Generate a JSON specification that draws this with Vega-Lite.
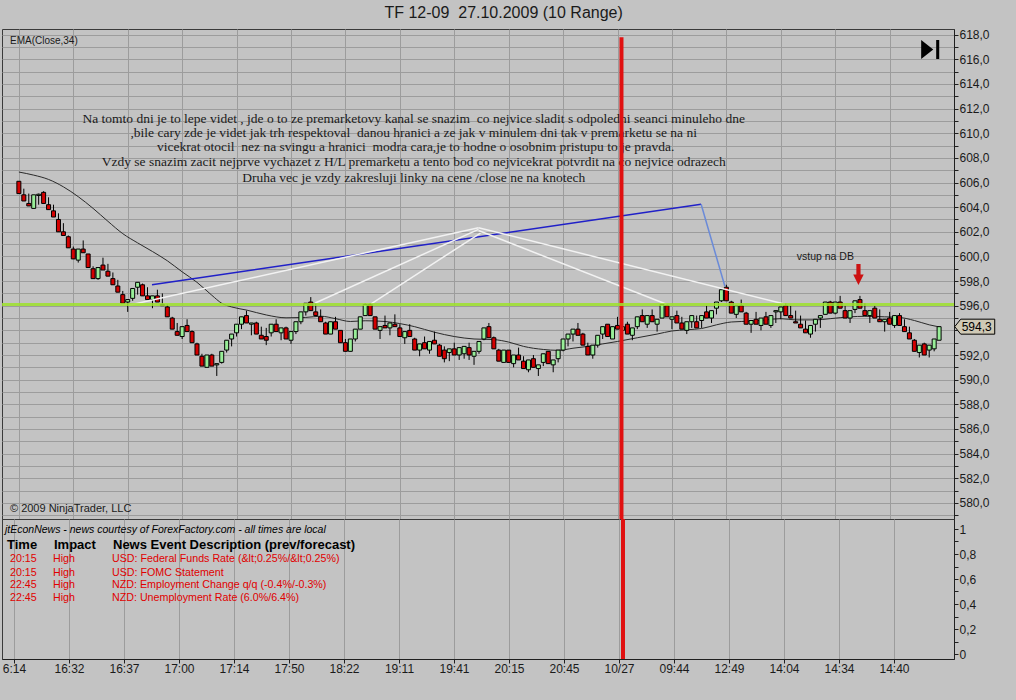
{
  "$schema": "https://vega.github.io/schema/vega-lite/v6.json",
  "background": "#c3c3c3",
  "padding": {"left": 0, "top": 5, "right": 22, "bottom": 26},
  "bounds": "flush",
  "spacing": 0,
  "title": {"text": "TF 12-09\u00a0 27.10.2009 (10 Range)", "font": "Liberation Sans", "fontSize": 16, "fontWeight": "normal", "color": "#1a1a1a", "anchor": "middle", "dx": 5, "offset": -9, "baseline": "bottom"},
  "config": {
    "view": {"stroke": "#3a3a3a", "strokeWidth": 1},
    "axis": {"labelFont": "Liberation Sans", "labelColor": "#1a1a1a", "domainColor": "#202020", "tickColor": "#202020", "gridColor": "#9c9c9c", "gridWidth": 1, "labelOverlap": false, "labelBound": false}
  },
  "datasets": {
    "bars": [
      {"i":0,"o":606.1,"h":606.1,"l":605.1,"c":605.1},
      {"i":1,"o":605.0,"h":605.5,"l":604.5,"c":604.5},
      {"i":2,"o":604.3,"h":605.1,"l":604.1,"c":604.1},
      {"i":3,"o":603.9,"h":605.0,"l":603.9,"c":605.0},
      {"i":4,"o":604.95,"h":605.1,"l":604.2,"c":605.05},
      {"i":5,"o":605.2,"h":605.3,"l":604.3,"c":604.3},
      {"i":6,"o":604.2,"h":604.8,"l":603.8,"c":603.8},
      {"i":7,"o":603.7,"h":604.2,"l":603.2,"c":603.2},
      {"i":8,"o":603.0,"h":603.5,"l":602.0,"c":602.0},
      {"i":9,"o":602.0,"h":602.7,"l":601.7,"c":601.7},
      {"i":10,"o":601.6,"h":601.7,"l":600.7,"c":600.7},
      {"i":11,"o":600.6,"h":600.8,"l":599.8,"c":599.8},
      {"i":12,"o":599.7,"h":600.6,"l":599.5,"c":600.6},
      {"i":13,"o":600.6,"h":601.3,"l":600.3,"c":600.3},
      {"i":14,"o":600.2,"h":600.2,"l":599.1,"c":599.1},
      {"i":15,"o":599.0,"h":599.2,"l":598.2,"c":598.2},
      {"i":16,"o":598.2,"h":599.1,"l":598.1,"c":599.1},
      {"i":17,"o":599.3,"h":599.9,"l":598.9,"c":598.9},
      {"i":18,"o":598.8,"h":599.4,"l":598.4,"c":598.4},
      {"i":19,"o":598.2,"h":598.7,"l":597.7,"c":597.7},
      {"i":20,"o":597.6,"h":598.1,"l":597.1,"c":597.1},
      {"i":21,"o":596.9,"h":597.2,"l":596.2,"c":596.2},
      {"i":22,"o":596.3,"h":596.5,"l":595.5,"c":596.5},
      {"i":23,"o":596.6,"h":597.4,"l":596.4,"c":597.4},
      {"i":24,"o":597.5,"h":597.9,"l":596.9,"c":597.9},
      {"i":25,"o":597.7,"h":597.8,"l":596.8,"c":596.8},
      {"i":26,"o":596.8,"h":597.5,"l":596.5,"c":596.5},
      {"i":27,"o":596.5,"h":596.8,"l":595.8,"c":596.8},
      {"i":28,"o":596.8,"h":597.3,"l":596.3,"c":596.3},
      {"i":29,"o":596.1,"h":597.0,"l":596.0,"c":596.0},
      {"i":30,"o":595.9,"h":596.1,"l":595.1,"c":595.1},
      {"i":31,"o":595.0,"h":595.1,"l":594.1,"c":594.1},
      {"i":32,"o":593.9,"h":594.6,"l":593.6,"c":593.6},
      {"i":33,"o":593.5,"h":594.3,"l":593.3,"c":594.3},
      {"i":34,"o":594.4,"h":594.9,"l":593.9,"c":593.9},
      {"i":35,"o":593.9,"h":594.0,"l":593.0,"c":593.0},
      {"i":36,"o":592.9,"h":593.0,"l":592.0,"c":592.0},
      {"i":37,"o":591.9,"h":592.1,"l":591.1,"c":591.1},
      {"i":38,"o":591.0,"h":592.0,"l":591.0,"c":592.0},
      {"i":39,"o":592.0,"h":592.1,"l":591.1,"c":591.1},
      {"i":40,"o":591.2,"h":591.3,"l":590.3,"c":591.3},
      {"i":41,"o":591.4,"h":592.3,"l":591.3,"c":592.3},
      {"i":42,"o":592.4,"h":593.2,"l":592.2,"c":593.2},
      {"i":43,"o":593.3,"h":593.7,"l":592.7,"c":593.7},
      {"i":44,"o":593.8,"h":594.5,"l":593.5,"c":594.5},
      {"i":45,"o":594.5,"h":595.1,"l":594.1,"c":595.1},
      {"i":46,"o":595.2,"h":595.6,"l":594.6,"c":594.6},
      {"i":47,"o":594.5,"h":594.6,"l":593.6,"c":594.6},
      {"i":48,"o":594.6,"h":594.7,"l":593.7,"c":593.7},
      {"i":49,"o":593.6,"h":594.3,"l":593.3,"c":593.3},
      {"i":50,"o":593.5,"h":594.2,"l":592.8,"c":593.2},
      {"i":51,"o":593.8,"h":594.5,"l":593.5,"c":594.5},
      {"i":52,"o":594.5,"h":594.9,"l":593.9,"c":593.9},
      {"i":53,"o":593.8,"h":594.2,"l":593.2,"c":594.2},
      {"i":54,"o":594.2,"h":594.3,"l":593.3,"c":593.3},
      {"i":55,"o":593.2,"h":593.9,"l":592.9,"c":593.9},
      {"i":56,"o":593.9,"h":594.7,"l":593.7,"c":594.7},
      {"i":57,"o":594.7,"h":595.5,"l":594.5,"c":595.5},
      {"i":58,"o":595.5,"h":596.2,"l":595.2,"c":596.2},
      {"i":59,"o":596.3,"h":596.7,"l":595.6,"c":595.6},
      {"i":60,"o":595.5,"h":596.2,"l":595.2,"c":595.2},
      {"i":61,"o":595.1,"h":595.7,"l":594.7,"c":594.7},
      {"i":62,"o":594.6,"h":594.7,"l":593.7,"c":593.7},
      {"i":63,"o":593.7,"h":594.7,"l":593.7,"c":594.7},
      {"i":64,"o":594.7,"h":595.1,"l":594.1,"c":594.1},
      {"i":65,"o":594.0,"h":594.0,"l":593.0,"c":593.0},
      {"i":66,"o":593.0,"h":593.3,"l":592.3,"c":592.3},
      {"i":67,"o":592.3,"h":593.3,"l":592.3,"c":593.3},
      {"i":68,"o":593.3,"h":594.1,"l":593.1,"c":594.1},
      {"i":69,"o":594.1,"h":595.1,"l":594.1,"c":595.1},
      {"i":70,"o":595.2,"h":596.2,"l":595.2,"c":596.1},
      {"i":71,"o":596.1,"h":596.2,"l":595.2,"c":595.2},
      {"i":72,"o":595.1,"h":595.1,"l":594.1,"c":594.1},
      {"i":73,"o":594.0,"h":594.3,"l":593.3,"c":594.3},
      {"i":74,"o":594.4,"h":595.2,"l":594.2,"c":594.2},
      {"i":75,"o":594.2,"h":594.6,"l":593.6,"c":594.6},
      {"i":76,"o":594.5,"h":595.3,"l":594.3,"c":594.3},
      {"i":77,"o":594.2,"h":594.5,"l":593.5,"c":593.5},
      {"i":78,"o":593.4,"h":593.9,"l":592.9,"c":593.9},
      {"i":79,"o":594.0,"h":594.5,"l":593.5,"c":593.5},
      {"i":80,"o":593.3,"h":593.4,"l":592.4,"c":592.4},
      {"i":81,"o":592.4,"h":592.9,"l":591.9,"c":592.9},
      {"i":82,"o":593.0,"h":593.5,"l":592.5,"c":592.5},
      {"i":83,"o":592.4,"h":593.1,"l":592.1,"c":593.1},
      {"i":84,"o":593.2,"h":593.9,"l":592.9,"c":592.9},
      {"i":85,"o":592.8,"h":592.9,"l":591.9,"c":591.9},
      {"i":86,"o":592.4,"h":592.7,"l":591.4,"c":591.7},
      {"i":87,"o":592.2,"h":592.5,"l":591.5,"c":592.5},
      {"i":88,"o":592.5,"h":593.0,"l":592.0,"c":592.0},
      {"i":89,"o":592.0,"h":592.6,"l":591.6,"c":592.6},
      {"i":90,"o":592.1,"h":592.7,"l":591.7,"c":592.7},
      {"i":91,"o":592.6,"h":593.0,"l":591.6,"c":592.0},
      {"i":92,"o":591.9,"h":592.3,"l":591.2,"c":592.3},
      {"i":93,"o":592.3,"h":593.1,"l":592.1,"c":593.1},
      {"i":94,"o":593.3,"h":594.2,"l":593.2,"c":594.2},
      {"i":95,"o":594.3,"h":594.6,"l":593.4,"c":593.4},
      {"i":96,"o":593.4,"h":593.5,"l":592.5,"c":592.5},
      {"i":97,"o":592.4,"h":592.5,"l":591.5,"c":591.5},
      {"i":98,"o":591.4,"h":592.4,"l":591.4,"c":592.4},
      {"i":99,"o":592.4,"h":592.4,"l":591.4,"c":591.4},
      {"i":100,"o":591.3,"h":592.0,"l":591.0,"c":592.0},
      {"i":101,"o":592.0,"h":592.6,"l":591.6,"c":591.6},
      {"i":102,"o":591.5,"h":591.9,"l":590.9,"c":590.9},
      {"i":103,"o":590.8,"h":591.6,"l":590.6,"c":591.6},
      {"i":104,"o":591.7,"h":592.0,"l":591.0,"c":591.0},
      {"i":105,"o":590.9,"h":591.2,"l":590.3,"c":591.2},
      {"i":106,"o":591.4,"h":592.1,"l":591.1,"c":592.1},
      {"i":107,"o":592.3,"h":592.3,"l":591.3,"c":591.3},
      {"i":108,"o":591.2,"h":591.6,"l":590.6,"c":591.6},
      {"i":109,"o":591.7,"h":592.4,"l":591.4,"c":592.4},
      {"i":110,"o":592.4,"h":593.3,"l":592.3,"c":593.3},
      {"i":111,"o":593.3,"h":593.7,"l":592.7,"c":593.7},
      {"i":112,"o":593.7,"h":594.1,"l":593.1,"c":594.1},
      {"i":113,"o":594.1,"h":594.6,"l":593.6,"c":593.6},
      {"i":114,"o":593.7,"h":593.8,"l":592.8,"c":592.8},
      {"i":115,"o":592.7,"h":593.0,"l":592.0,"c":592.0},
      {"i":116,"o":592.0,"h":592.8,"l":591.7,"c":592.8},
      {"i":117,"o":592.8,"h":593.6,"l":592.6,"c":593.6},
      {"i":118,"o":593.7,"h":594.3,"l":593.3,"c":594.3},
      {"i":119,"o":594.5,"h":594.5,"l":593.5,"c":593.5},
      {"i":120,"o":593.3,"h":594.3,"l":593.3,"c":594.3},
      {"i":121,"o":594.4,"h":595.1,"l":594.1,"c":594.1},
      {"i":122,"o":594.0,"h":594.3,"l":593.3,"c":594.3},
      {"i":123,"o":594.5,"h":594.7,"l":593.7,"c":593.7},
      {"i":124,"o":593.6,"h":594.2,"l":593.2,"c":594.2},
      {"i":125,"o":594.3,"h":595.1,"l":594.1,"c":595.1},
      {"i":126,"o":595.2,"h":595.7,"l":594.7,"c":594.7},
      {"i":127,"o":594.5,"h":595.2,"l":594.2,"c":595.2},
      {"i":128,"o":595.2,"h":595.7,"l":594.7,"c":594.7},
      {"i":129,"o":594.5,"h":594.9,"l":593.9,"c":594.9},
      {"i":130,"o":595.0,"h":596.1,"l":595.0,"c":596.1},
      {"i":131,"o":596.0,"h":596.1,"l":595.1,"c":595.1},
      {"i":132,"o":594.9,"h":595.1,"l":594.1,"c":595.1},
      {"i":133,"o":595.2,"h":595.6,"l":594.6,"c":594.6},
      {"i":134,"o":594.6,"h":595.1,"l":594.1,"c":594.1},
      {"i":135,"o":594.0,"h":594.7,"l":593.7,"c":594.7},
      {"i":136,"o":594.7,"h":595.2,"l":594.2,"c":595.2},
      {"i":137,"o":594.7,"h":595.2,"l":594.2,"c":594.2},
      {"i":138,"o":594.8,"h":595.2,"l":594.2,"c":595.2},
      {"i":139,"o":595.5,"h":596.0,"l":595.0,"c":595.0},
      {"i":140,"o":595.0,"h":595.6,"l":594.6,"c":595.6},
      {"i":141,"o":595.8,"h":596.3,"l":595.3,"c":596.3},
      {"i":142,"o":596.4,"h":597.3,"l":596.3,"c":597.3},
      {"i":143,"o":597.5,"h":597.7,"l":596.4,"c":596.4},
      {"i":144,"o":596.3,"h":596.4,"l":595.4,"c":595.4},
      {"i":145,"o":595.3,"h":596.0,"l":595.0,"c":596.0},
      {"i":146,"o":596.0,"h":596.5,"l":595.5,"c":595.5},
      {"i":147,"o":595.4,"h":595.5,"l":594.5,"c":594.5},
      {"i":148,"o":594.5,"h":594.8,"l":593.8,"c":594.8},
      {"i":149,"o":594.9,"h":595.5,"l":594.5,"c":594.5},
      {"i":150,"o":594.4,"h":595.0,"l":594.0,"c":595.0},
      {"i":151,"o":595.1,"h":595.5,"l":594.5,"c":594.5},
      {"i":152,"o":594.4,"h":595.2,"l":594.2,"c":595.2},
      {"i":153,"o":595.5,"h":595.6,"l":594.6,"c":595.6},
      {"i":154,"o":595.5,"h":595.9,"l":594.9,"c":595.9},
      {"i":155,"o":596.0,"h":596.2,"l":595.2,"c":595.2},
      {"i":156,"o":595.2,"h":596.0,"l":595.0,"c":595.0},
      {"i":157,"o":594.7,"h":595.6,"l":594.6,"c":594.6},
      {"i":158,"o":594.5,"h":595.2,"l":594.2,"c":594.2},
      {"i":159,"o":594.1,"h":594.8,"l":593.8,"c":593.8},
      {"i":160,"o":593.7,"h":594.4,"l":593.4,"c":594.4},
      {"i":161,"o":594.5,"h":594.9,"l":593.9,"c":594.9},
      {"i":162,"o":595.0,"h":595.2,"l":594.2,"c":595.2},
      {"i":163,"o":595.3,"h":596.3,"l":595.3,"c":596.3},
      {"i":164,"o":596.3,"h":596.4,"l":595.4,"c":595.4},
      {"i":165,"o":595.4,"h":596.3,"l":595.3,"c":596.3},
      {"i":166,"o":596.3,"h":596.8,"l":595.8,"c":595.8},
      {"i":167,"o":595.6,"h":596.0,"l":595.0,"c":595.0},
      {"i":168,"o":595.0,"h":595.6,"l":594.6,"c":595.6},
      {"i":169,"o":595.7,"h":596.4,"l":595.4,"c":596.4},
      {"i":170,"o":596.5,"h":596.8,"l":595.8,"c":595.8},
      {"i":171,"o":595.6,"h":596.2,"l":595.2,"c":595.2},
      {"i":172,"o":595.2,"h":595.6,"l":594.6,"c":595.6},
      {"i":173,"o":595.8,"h":596.0,"l":595.0,"c":595.0},
      {"i":174,"o":594.9,"h":595.7,"l":594.7,"c":594.7},
      {"i":175,"o":594.7,"h":594.9,"l":593.9,"c":594.9},
      {"i":176,"o":595.0,"h":595.5,"l":594.5,"c":594.5},
      {"i":177,"o":594.4,"h":595.2,"l":594.2,"c":595.2},
      {"i":178,"o":595.2,"h":595.4,"l":594.4,"c":594.4},
      {"i":179,"o":594.3,"h":594.9,"l":593.9,"c":593.9},
      {"i":180,"o":593.8,"h":594.3,"l":593.3,"c":593.3},
      {"i":181,"o":593.2,"h":593.3,"l":592.3,"c":592.3},
      {"i":182,"o":592.2,"h":592.8,"l":591.8,"c":592.8},
      {"i":183,"o":592.9,"h":593.0,"l":592.0,"c":592.0},
      {"i":184,"o":592.4,"h":592.8,"l":591.8,"c":592.8},
      {"i":185,"o":592.5,"h":593.3,"l":592.3,"c":593.3},
      {"i":186,"o":593.2,"h":594.3,"l":593.2,"c":594.3}
    ],
    "ema": [
      {"i":0,"v":606.85},{"i":3,"v":606.6},{"i":6,"v":606.25},{"i":9,"v":605.65},{"i":12,"v":604.85},{"i":15,"v":603.9},{"i":18,"v":602.85},{"i":21,"v":601.85},{"i":24,"v":601.1},{"i":27,"v":600.4},{"i":30,"v":599.65},{"i":33,"v":598.75},{"i":36,"v":597.9},{"i":39,"v":596.85},{"i":41,"v":596.2},{"i":43,"v":595.9},{"i":46,"v":595.65},{"i":50,"v":595.25},{"i":54,"v":595.02},{"i":58,"v":595.05},{"i":61,"v":595.15},{"i":64,"v":594.95},{"i":67,"v":594.72},{"i":70,"v":594.78},{"i":74,"v":594.72},{"i":77,"v":594.55},{"i":80,"v":594.3},{"i":84,"v":593.85},{"i":88,"v":593.5},{"i":92,"v":593.3},{"i":96,"v":593.25},{"i":99,"v":593.05},{"i":102,"v":592.7},{"i":106,"v":592.45},{"i":109,"v":592.38},{"i":112,"v":592.55},{"i":115,"v":592.7},{"i":118,"v":592.9},{"i":121,"v":593.1},{"i":125,"v":593.4},{"i":129,"v":593.7},{"i":132,"v":593.95},{"i":135,"v":594.05},{"i":138,"v":594.15},{"i":141,"v":594.45},{"i":144,"v":594.68},{"i":148,"v":594.75},{"i":151,"v":594.85},{"i":154,"v":594.95},{"i":157,"v":594.85},{"i":161,"v":594.85},{"i":164,"v":594.95},{"i":168,"v":595.1},{"i":171,"v":595.14},{"i":175,"v":595.1},{"i":178,"v":595.05},{"i":181,"v":594.8},{"i":184,"v":594.45},{"i":186,"v":594.28}
    ],
    "draw": [
      {"seg":"s1","k":0,"kind":"blue","i":26.9,"p":597.71},{"seg":"s1","k":1,"kind":"blue","i":137.9,"p":604.23},
      {"seg":"s2","k":0,"kind":"steel","i":137.9,"p":604.23},{"seg":"s2","k":1,"kind":"steel","i":142.7,"p":597.58},
      {"seg":"s3","k":0,"kind":"white","i":22.2,"p":596.04},{"seg":"s3","k":1,"kind":"white","i":92.9,"p":602.33},
      {"seg":"s4","k":0,"kind":"white","i":59.9,"p":596.22},{"seg":"s4","k":1,"kind":"white","i":92.9,"p":602.2},
      {"seg":"s5","k":0,"kind":"white","i":71.2,"p":596.16},{"seg":"s5","k":1,"kind":"white","i":93.3,"p":601.9},
      {"seg":"s6","k":0,"kind":"white","i":92.9,"p":602.1},{"seg":"s6","k":1,"kind":"white","i":130.9,"p":596.12},
      {"seg":"s7","k":0,"kind":"white","i":92.9,"p":602.33},{"seg":"s7","k":1,"kind":"white","i":154.9,"p":596.12}
    ],
    "notes": [
      {"i":79.8,"p":611.16,"t":"Na tomto dni je to lepe videt , jde o to ze premarketovy kanal se snazim\u00a0 co nejvice sladit s odpoledni seanci minuleho dne"},
      {"i":79.8,"p":610.02,"t":",bile cary zde je videt jak trh respektoval\u00a0 danou hranici a ze jak v minulem dni tak v premarketu se na ni"},
      {"i":80.2,"p":608.88,"t":"vicekrat otocil\u00a0 nez na svingu a hranici\u00a0 modra cara,je to hodne o osobnim pristupu to je pravda."},
      {"i":79.8,"p":607.67,"t":"Vzdy se snazim zacit nejprve vychazet z H/L premarketu a tento bod co nejvicekrat potvrdit na co nejvice odrazech"},
      {"i":79.8,"p":606.37,"t":"Druha vec je vzdy zakresluji linky na cene /close ne na knotech"}
    ],
    "level": [{"p": 596.1}],
    "session": [{"i": 121.8, "top": 617.8, "bottom": 578.69}],
    "news": [
      {"v":0.76,"time":"20:15","impact":"High","desc":"USD: Federal Funds Rate (&lt;0.25%/&lt;0.25%)"},
      {"v":0.652,"time":"20:15","impact":"High","desc":"USD: FOMC Statement"},
      {"v":0.552,"time":"22:45","impact":"High","desc":"NZD: Employment Change q/q (-0.4%/-0.3%)"},
      {"v":0.448,"time":"22:45","impact":"High","desc":"NZD: Unemployment Rate (6.0%/6.4%)"}
    ]
  },
  "vconcat": [
    {
      "width": 952,
      "height": 490,
      "layer": [
        {
          "data": {"name": "notes"},
          "mark": {"type": "text", "font": "Liberation Serif", "fontSize": 13.5, "color": "#1a1a1a", "align": "center", "baseline": "middle"},
          "encoding": {
            "x": {"field": "i", "type": "quantitative", "scale": {"domain": [-2.4, 188], "nice": false, "zero": false},
                  "axis": {"orient": "bottom", "values": [0,11,22,33,44,55,66,77,88,99,110,121,132,143,154,165,176], "tickCount": 500, "grid": true, "labels": false, "ticks": false, "domain": false, "title": null}},
            "y": {"field": "p", "type": "quantitative", "scale": {"domain": [578.69, 618.46], "nice": false, "zero": false},
                  "axis": {"orient": "right", "values": [579,580,581,582,583,584,585,586,587,588,589,590,591,592,593,594,595,596,597,598,599,600,601,602,603,604,605,606,607,608,609,610,611,612,613,614,615,616,617,618],
                           "tickCount": 500, "grid": true, "tickSize": 4, "labelPadding": 1, "labelFontSize": 12, "title": null, "labelOverlap": false, "labelBound": false,
                           "labelExpr": "(datum.value % 2 === 0 && datum.value !== 594) ? replace(format(datum.value, '.1f'), '.', ',') : ''"}},
            "text": {"field": "t"}
          }
        },
        {
          "data": {"name": "ema"},
          "mark": {"type": "line", "color": "#2a2a2a", "strokeWidth": 1, "interpolate": "monotone"},
          "encoding": {"x": {"field": "i", "type": "quantitative"}, "y": {"field": "v", "type": "quantitative"}}
        },
        {
          "data": {"name": "bars"},
          "mark": {"type": "rule", "color": "#000000", "strokeWidth": 1},
          "encoding": {"x": {"field": "i", "type": "quantitative"}, "y": {"field": "l", "type": "quantitative"}, "y2": {"field": "h"}}
        },
        {
          "data": {"name": "bars"},
          "mark": {"type": "bar", "size": 4, "stroke": "#000000", "strokeWidth": 1},
          "encoding": {
            "x": {"field": "i", "type": "quantitative"},
            "y": {"field": "o", "type": "quantitative"},
            "y2": {"field": "c"},
            "fill": {"condition": {"test": "datum.c > datum.o", "value": "#98ee98"}, "value": "#d40000"}
          }
        },
        {
          "data": {"name": "draw"},
          "mark": {"type": "line", "strokeWidth": 1.5},
          "encoding": {
            "x": {"field": "i", "type": "quantitative"},
            "y": {"field": "p", "type": "quantitative"},
            "detail": {"field": "seg"},
            "order": {"field": "k"},
            "color": {"field": "kind", "type": "nominal", "scale": {"domain": ["blue", "steel", "white"], "range": ["#2020c8", "#6a8ad8", "#f2f2f2"]}, "legend": null}
          }
        },
        {
          "data": {"name": "session"},
          "mark": {"type": "rule", "color": "#e01010", "strokeWidth": 4},
          "encoding": {"x": {"field": "i", "type": "quantitative"}, "y": {"field": "top", "type": "quantitative"}, "y2": {"field": "bottom"}}
        },
        {
          "data": {"name": "level"},
          "mark": {"type": "rule", "color": "#9ee22c", "strokeWidth": 3, "opacity": 0.85},
          "encoding": {"y": {"field": "p", "type": "quantitative"}}
        },
        {
          "data": {"values": [{"i": -1.8, "p": 617.49, "t": "EMA(Close,34)"}]},
          "mark": {"type": "text", "font": "Liberation Sans", "fontSize": 10, "color": "#1a1a1a", "align": "left", "baseline": "middle"},
          "encoding": {"x": {"field": "i", "type": "quantitative"}, "y": {"field": "p", "type": "quantitative"}, "text": {"field": "t"}}
        },
        {
          "data": {"values": [{"i": -1.8, "p": 579.5, "t": "© 2009 NinjaTrader, LLC"}]},
          "mark": {"type": "text", "font": "Liberation Sans", "fontSize": 11, "color": "#1a1a1a", "align": "left", "baseline": "middle"},
          "encoding": {"x": {"field": "i", "type": "quantitative"}, "y": {"field": "p", "type": "quantitative"}, "text": {"field": "t"}}
        },
        {
          "data": {"values": [{"i": 163, "p": 599.95, "t": "vstup na DB"}]},
          "mark": {"type": "text", "font": "Liberation Sans", "fontSize": 10.5, "color": "#1a1a1a", "align": "center", "baseline": "middle"},
          "encoding": {"x": {"field": "i", "type": "quantitative"}, "y": {"field": "p", "type": "quantitative"}, "text": {"field": "t"}}
        },
        {
          "data": {"values": [{"i": 169.7, "p": 598.54}]},
          "mark": {"type": "point", "filled": true, "opacity": 1, "color": "#cc1111", "size": 441, "shape": "M -0.2 -1 L 0.2 -1 L 0.2 0 L 0.5 0 L 0 1 L -0.5 0 L -0.2 0 Z"},
          "encoding": {"x": {"field": "i", "type": "quantitative"}, "y": {"field": "p", "type": "quantitative"}}
        },
        {
          "data": {"values": [{"i": 184.2, "p": 616.8}]},
          "mark": {"type": "point", "filled": true, "opacity": 1, "color": "#000000", "size": 361, "shape": "M -0.95 -1 L 0.32 0 L -0.95 1 Z M 0.63 -1 L 0.95 -1 L 0.95 1 L 0.63 1 Z"},
          "encoding": {"x": {"field": "i", "type": "quantitative"}, "y": {"field": "p", "type": "quantitative"}}
        },
        {
          "data": {"values": [{"i": 193.2, "p": 594.3}]},
          "mark": {"type": "point", "filled": true, "opacity": 1, "fill": "#cfc9b5", "stroke": "#000000", "strokeWidth": 1, "size": 1600, "shape": "M -1 0 L -0.7 -0.375 L 1 -0.375 L 1 0.375 L -0.7 0.375 Z"},
          "encoding": {"x": {"field": "i", "type": "quantitative"}, "y": {"field": "p", "type": "quantitative"}}
        },
        {
          "data": {"values": [{"i": 193.6, "p": 594.3, "t": "594,3"}]},
          "mark": {"type": "text", "font": "Liberation Sans", "fontSize": 12, "color": "#000000", "align": "center", "baseline": "middle"},
          "encoding": {"x": {"field": "i", "type": "quantitative"}, "y": {"field": "p", "type": "quantitative"}, "text": {"field": "t"}}
        }
      ]
    },
    {
      "width": 952,
      "height": 140,
      "layer": [
        {
          "data": {"values": [{"i": -1.8, "v": 0.992, "t": "jtEconNews - news courtesy of ForexFactory.com - all times are local"}]},
          "mark": {"type": "text", "font": "Liberation Sans", "fontSize": 10.5, "fontStyle": "italic", "color": "#000000", "align": "left", "baseline": "middle"},
          "encoding": {
            "x": {"field": "i", "type": "quantitative", "scale": {"domain": [-2.4, 188], "nice": false, "zero": false},
                  "axis": {"orient": "bottom", "values": [0,11,22,33,44,55,66,77,88,99,110,121,132,143,154,165,176], "tickCount": 500, "grid": true, "tickSize": 4, "labelPadding": 0, "labelFontSize": 12, "title": null, "labelOverlap": false, "labelBound": false,
                           "labelExpr": "['6:14','16:32','16:37','17:00','17:14','17:50','18:22','19:11','19:41','20:15','20:45','10/27','09:44','12:49','14:04','14:34','14:40'][round(datum.value / 11)]"}},
            "y": {"field": "v", "type": "quantitative", "scale": {"domain": [-0.04, 1.08], "nice": false, "zero": false},
                  "axis": {"orient": "right", "values": [0,0.1,0.2,0.3,0.4,0.5,0.6,0.7,0.8,0.9,1], "tickCount": 500, "grid": false, "tickSize": 4, "labelPadding": 1, "labelFontSize": 12, "title": null, "labelOverlap": false, "labelBound": false,
                           "labelExpr": "round(datum.value * 10) % 2 === 0 ? replace(format(datum.value, '.1~f'), '.', ',') : ''"}},
            "text": {"field": "t"}
          }
        },
        {
          "data": {"values": [{"i": -1.4, "v": 0.872, "t": "Time"}, {"i": 8, "v": 0.872, "t": "Impact"}, {"i": 19.8, "v": 0.872, "t": "News Event Description (prev/forecast)"}]},
          "mark": {"type": "text", "font": "Liberation Sans", "fontSize": 13, "fontWeight": "bold", "color": "#000000", "align": "left", "baseline": "middle"},
          "encoding": {"x": {"field": "i", "type": "quantitative"}, "y": {"field": "v", "type": "quantitative"}, "text": {"field": "t"}}
        },
        {
          "data": {"name": "news"},
          "mark": {"type": "text", "font": "Liberation Sans", "fontSize": 10.7, "color": "#e00000", "align": "left", "baseline": "middle"},
          "encoding": {"x": {"datum": -0.8}, "y": {"field": "v", "type": "quantitative"}, "text": {"field": "time"}}
        },
        {
          "data": {"name": "news"},
          "mark": {"type": "text", "font": "Liberation Sans", "fontSize": 10.7, "color": "#e00000", "align": "left", "baseline": "middle"},
          "encoding": {"x": {"datum": 7.8}, "y": {"field": "v", "type": "quantitative"}, "text": {"field": "impact"}}
        },
        {
          "data": {"name": "news"},
          "mark": {"type": "text", "font": "Liberation Sans", "fontSize": 10.7, "color": "#e00000", "align": "left", "baseline": "middle"},
          "encoding": {"x": {"datum": 19.6}, "y": {"field": "v", "type": "quantitative"}, "text": {"field": "desc"}}
        },
        {
          "data": {"name": "session"},
          "mark": {"type": "rule", "color": "#e01010", "strokeWidth": 4},
          "encoding": {"x": {"field": "i", "type": "quantitative"}}
        }
      ]
    }
  ]
}
